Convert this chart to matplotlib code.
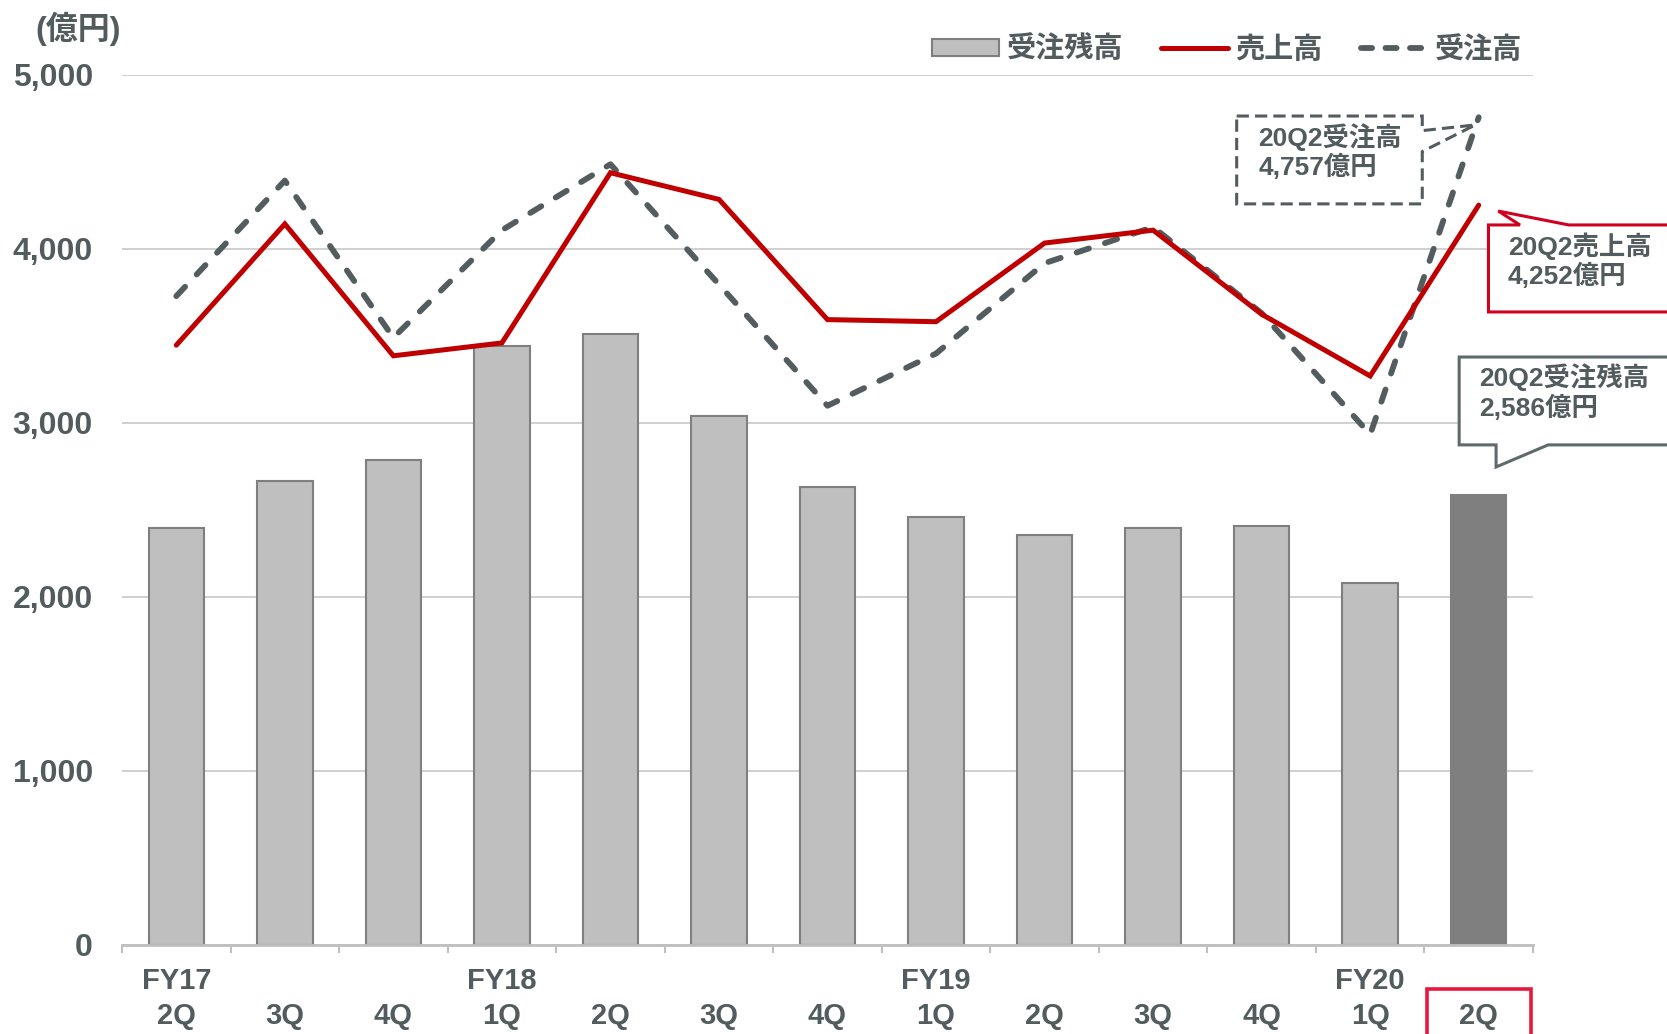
import matplotlib
matplotlib.use("Agg")
import matplotlib.pyplot as plt
from matplotlib.patches import Polygon, Rectangle, Patch
from matplotlib.lines import Line2D
import numpy as np

plt.rcParams['font.family'] = ['Liberation Sans', 'Noto Sans CJK JP', 'DejaVu Sans']
plt.rcParams['font.weight'] = 'bold'

# data (億円)
quarters = ['FY17\n2Q', '\n3Q', '\n4Q', 'FY18\n1Q', '\n2Q', '\n3Q', '\n4Q',
            'FY19\n1Q', '\n2Q', '\n3Q', '\n4Q', 'FY20\n1Q', '\n2Q']
backlog = [2396, 2665, 2787, 3441, 3509, 3038, 2634, 2457, 2359, 2396, 2408, 2078, 2586]
sales = [3447, 4144, 3386, 3460, 4438, 4285, 3594, 3582, 4034, 4108, 3625, 3270, 4252]
orders = [3729, 4393, 3490, 4108, 4487, 3796, 3099, 3399, 3918, 4126, 3631, 2934, 4757]
yticks = [0, 1000, 2000, 3000, 4000, 5000]

txt = '#525C5E'
red = '#C00000'
dash_col = '#535D5F'

fig = plt.figure(figsize=(16.67, 10.34), dpi=100)
ax = fig.add_axes([0.0732, 0.0861, 0.8464, 0.8414])

x = np.arange(len(quarters))
colors = ['#BFBFBF'] * (len(x) - 1) + ['#7F7F7F']
ax.bar(x, backlog, width=0.51, color=colors, edgecolor='#7F7F7F', linewidth=1.5, zorder=2)
ax.plot(x, sales, color=red, lw=3.6, solid_capstyle='round', solid_joinstyle='miter', zorder=4)
ax.plot(x, orders, color=dash_col, lw=4.2, dashes=(2.2, 2.9), dash_capstyle='round', zorder=3)

ax.set_xlim(-0.5, len(x) - 0.5)
ax.set_ylim(0, 5000)
for s in ['top', 'right', 'left']:
    ax.spines[s].set_visible(False)
ax.spines['bottom'].set_color('#BFBFBF')
ax.spines['bottom'].set_linewidth(2)
ax.yaxis.grid(True, color='#C8C8C8', lw=1.2)
ax.set_axisbelow(True)

ax.set_yticks(yticks)
ax.set_yticklabels([f'{v:,}' for v in yticks], fontsize=23, color=txt, fontweight='bold')
ax.tick_params(axis='y', length=0, pad=21)

ax.set_xticks(x)
ax.set_xticklabels(quarters, fontsize=21, color=txt, fontweight='bold', linespacing=1.3)
ax.set_xticks(np.arange(-0.5, len(x)), minor=True)
ax.tick_params(axis='x', which='major', length=0, pad=16)
ax.tick_params(axis='x', which='minor', length=6, width=1.5, color='#BFBFBF')

fig.text(0.021, 0.972, '(億円)', fontsize=23, color=txt, fontweight='bold', va='center')

# legend
handles = [Patch(facecolor='#BFBFBF', edgecolor='#7F7F7F', lw=1.5),
           Line2D([], [], color=red, lw=3.6, solid_capstyle='round'),
           Line2D([], [], color=dash_col, lw=4.2, dashes=(1.9, 2.3), dash_capstyle='round')]
leg = fig.legend(handles, ['受注残高', '売上高', '受注高'], loc='center right',
                 bbox_to_anchor=(0.922, 0.952), ncol=3, frameon=False, borderpad=0,
                 prop={'size': 21, 'weight': 'bold'}, handlelength=2.3,
                 handletextpad=0.25, columnspacing=1.3, handleheight=0.55)
for t in leg.get_texts():
    t.set_color(txt)


def callout(pts, ec, ls='-'):
    ax.add_patch(Polygon(pts, closed=True, facecolor='white', edgecolor=ec, lw=2.2,
                         linestyle=ls, clip_on=False, zorder=6))


# 受注高 callout (dashed)
callout([(9.77, 4764), (11.48, 4764), (11.48, 4680), (11.97, 4713), (11.48, 4560),
         (11.48, 4259), (9.77, 4259)], dash_col, ls=(0, (4, 2)))
ax.text(9.97, 4560, '20Q2受注高\n4,757億円', fontsize=19, color=txt, fontweight='bold',
        va='center', ha='left', linespacing=1.15, zorder=7)

# 売上高 callout (red)
callout([(12.09, 4138), (12.38, 4138), (12.18, 4218), (12.83, 4138), (13.9, 4138),
         (13.9, 3638), (12.09, 3638)], '#D0001F')
ax.text(12.27, 3934, '20Q2売上高\n4,252億円', fontsize=19, color=txt, fontweight='bold',
        va='center', ha='left', linespacing=1.15, zorder=7)

# 受注残高 callout
callout([(11.82, 3379), (13.9, 3379), (13.9, 2874), (12.64, 2874), (12.16, 2747),
         (12.16, 2874), (11.82, 2874)], '#5F6A6C')
ax.text(12.0, 3178, '20Q2受注残高\n2,586億円', fontsize=19, color=txt, fontweight='bold',
        va='center', ha='left', linespacing=1.15, zorder=7)

# highlight box around the latest quarter label
fig.add_artist(Rectangle((0.856, -0.01), 0.0624, 0.0535, transform=fig.transFigure,
                         fill=False, edgecolor='#E8173D', lw=2.6))

fig.savefig('out.png', dpi=100)
